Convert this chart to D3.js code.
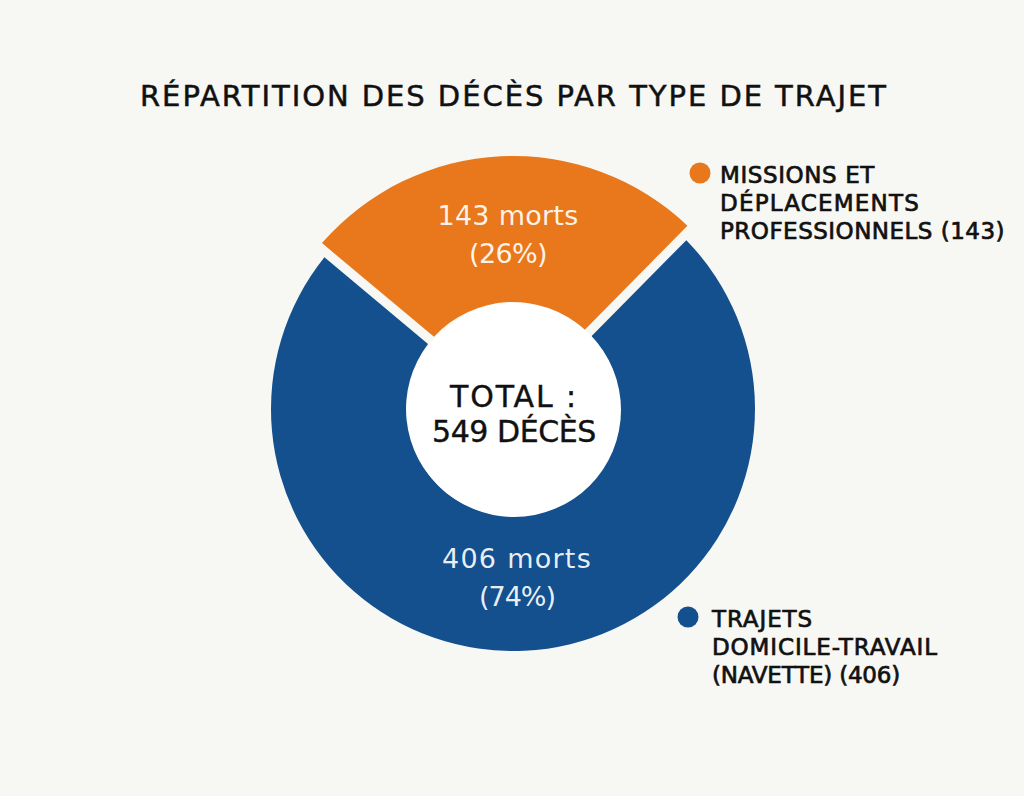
<!DOCTYPE html>
<html>
<head>
<meta charset="utf-8">
<script src="https://cdn.jsdelivr.net/npm/d3@7"></script>
<style>
  html, body { margin: 0; padding: 0; background: #f7f7f3; }
  svg { display: block; font-family: "DejaVu Sans", "Open Sans", sans-serif; }
</style>
</head>
<body>
<svg id="chart" width="1024" height="796"></svg>
<script>
// data
const categories = ["Missions et déplacements professionnels", "Trajets domicile-travail (navette)"];
const values = [143, 406];
const colors = ["#e8781b", "#14508e"];
const legendLines = [
  ["MISSIONS ET", "DÉPLACEMENTS", "PROFESSIONNELS (143)"],
  ["TRAJETS", "DOMICILE-TRAVAIL", "(NAVETTE) (406)"]
];
const title = "RÉPARTITION DES DÉCÈS PAR TYPE DE TRAJET";

const svg = d3.select("#chart");
const cx = 513, cy = 409;
const total = d3.sum(values);

// adjust letter-spacing so a text reaches a target width
function spreadTo(sel, w) {
  const len = sel.node().getComputedTextLength();
  const n = sel.text().length;
  sel.attr("letter-spacing", (w - len) / n);
}

const t = svg.append("text").attr("x", 514).attr("y", 106).attr("text-anchor", "middle")
  .attr("font-size", 29).attr("font-weight", 400).attr("fill", "#111")
  .attr("stroke", "#111").attr("stroke-width", 0.5).text(title);
spreadTo(t, 748);

// pie: orange slice on top, slightly rotated
const rot = -3.2 * Math.PI / 180;
const pie = d3.pie().sort(null).value(d => d)
  .startAngle(rot - Math.PI * values[0] / total)
  .endAngle(rot - Math.PI * values[0] / total + 2 * Math.PI)
  .padAngle(0.035);
const arcs = pie(values);
const outerR = [253, 242];
const innerR = 107;

const g = svg.append("g").attr("transform", `translate(${cx},${cy})`);
g.selectAll("path").data(arcs).enter().append("path")
  .attr("d", (d, i) => d3.arc().innerRadius(innerR).outerRadius(outerR[i]).padRadius(266)(d))
  .attr("fill", (d, i) => colors[i]);

g.append("circle").attr("cx", 1).attr("cy", 1).attr("r", innerR).attr("fill", "#fff");

// slice labels
const labelPos = [[-5, -184], [4, 159]];
const labelW = [[141, 78], [150, 76]];
arcs.forEach((d, i) => {
  const pct = Math.round(100 * values[i] / total);
  [values[i] + " morts", "(" + pct + "%)"].forEach((s, j) => {
    const lt = g.append("text").attr("text-anchor", "middle").attr("fill", "#fff").attr("fill-opacity", 0.92)
      .attr("font-size", 27).attr("font-weight", 400)
      .attr("x", labelPos[i][0]).attr("y", labelPos[i][1] + j * 38).text(s);
    spreadTo(lt, labelW[i][j]);
  });
});

// center
const centerLines = ["TOTAL :", total + " DÉCÈS"];
const centerW = [128, 164];
centerLines.forEach((s, j) => {
  const ct = g.append("text").attr("text-anchor", "middle").attr("fill", "#111")
    .attr("font-size", 30).attr("font-weight", 400)
    .attr("stroke", "#111").attr("stroke-width", 0.4)
    .attr("x", 1).attr("y", -2 + j * 35).text(s);
  spreadTo(ct, centerW[j]);
});

// legend
const legendPos = [[700, 173], [688, 617]];
const legendW = [[155, 200, 285], [101, 226, 188]];
legendLines.forEach((lines, i) => {
  const [lx, ly] = legendPos[i];
  svg.append("circle").attr("cx", lx).attr("cy", ly).attr("r", 10.5).attr("fill", colors[i]);
  lines.forEach((s, j) => {
    const lt = svg.append("text").attr("fill", "#111").attr("font-size", 23).attr("font-weight", 400)
      .attr("stroke", "#111").attr("stroke-width", 0.7)
      .attr("x", lx + 20 + (i === 1 ? 4 : 0)).attr("y", ly + 10 + j * 28).text(s);
    spreadTo(lt, legendW[i][j]);
  });
});
</script>
</body>
</html>
